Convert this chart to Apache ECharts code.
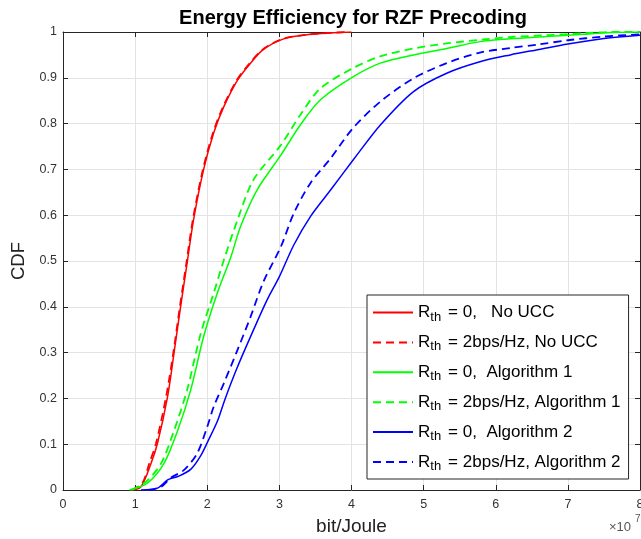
<!DOCTYPE html>
<html>
<head>
<meta charset="utf-8">
<script src="https://cdn.jsdelivr.net/npm/echarts@6/dist/echarts.min.js"></script>
<style>
html,body{margin:0;padding:0;background:#fff;}
#chart{width:641px;height:539px;}
</style>
</head>
<body>
<div id="chart"></div>
<script>
// ---- data (x in units of 1e7 bit/Joule, y = CDF) ----
const xTicks = [0,1,2,3,4,5,6,7,8];
const yTicks = [0,0.1,0.2,0.3,0.4,0.5,0.6,0.7,0.8,0.9,1];

const redSolid = [[0.95,0],[1.08,0.007],[1.22,0.058],[1.31,0.102],[1.45,0.204],[1.54,0.3],[1.63,0.4],[1.72,0.495],[1.81,0.59],[1.95,0.70],[2.09,0.78],[2.23,0.837],[2.42,0.895],[2.6,0.932],[2.78,0.962],[3.06,0.985],[3.38,0.994],[3.7,0.998],[4.0,1]];
const redDashed = [[0.95,0],[1.1,0.015],[1.2,0.06],[1.29,0.102],[1.43,0.204],[1.53,0.3],[1.62,0.4],[1.71,0.495],[1.8,0.59],[1.94,0.70],[2.08,0.78],[2.22,0.837],[2.41,0.895],[2.59,0.932],[2.77,0.962],[3.05,0.985],[3.37,0.994],[3.7,0.998],[3.95,1]];
const greenSolid = [[0.92,0],[1.17,0.015],[1.4,0.058],[1.59,0.13],[1.77,0.218],[1.95,0.335],[2.14,0.43],[2.33,0.51],[2.46,0.575],[2.69,0.655],[3.02,0.731],[3.29,0.797],[3.57,0.852],[4.02,0.902],[4.4,0.932],[4.86,0.95],[5.32,0.964],[5.78,0.979],[6.2,0.985],[6.7,0.99],[7.2,0.995],[7.6,0.999],[8,1]];
const greenDashed = [[0.95,0],[1.15,0.018],[1.36,0.058],[1.54,0.13],[1.72,0.218],[1.91,0.342],[2.09,0.43],[2.23,0.502],[2.42,0.59],[2.64,0.677],[3.02,0.753],[3.29,0.819],[3.57,0.877],[4.02,0.921],[4.4,0.947],[4.86,0.964],[5.32,0.975],[5.78,0.983],[6.2,0.989],[6.7,0.993],[7.2,0.997],[7.6,1],[8,1]];
const blueSolid = [[1.08,0],[1.31,0.004],[1.45,0.022],[1.6,0.03],[1.77,0.045],[1.91,0.075],[2.02,0.11],[2.14,0.15],[2.25,0.2],[2.42,0.269],[2.64,0.349],[2.83,0.415],[3.0,0.466],[3.2,0.535],[3.43,0.597],[3.71,0.655],[4.03,0.722],[4.4,0.797],[4.86,0.87],[5.32,0.91],[5.78,0.935],[6.2,0.95],[6.6,0.962],[7.0,0.974],[7.5,0.986],[8,0.993]];
const blueDashed = [[1.19,0],[1.36,0.007],[1.49,0.026],[1.68,0.044],[1.86,0.08],[2.0,0.138],[2.09,0.182],[2.23,0.233],[2.42,0.306],[2.6,0.378],[2.78,0.455],[3.02,0.531],[3.2,0.604],[3.43,0.67],[3.71,0.724],[4.02,0.79],[4.4,0.848],[4.86,0.899],[5.32,0.932],[5.78,0.955],[6.2,0.965],[6.6,0.973],[7.0,0.982],[7.5,0.99],[8,0.995]];

const seriesNames = ['s1','s2','s3','s4','s5','s6'];
const legendTexts = ['= 0,   No UCC','= 2bps/Hz, No UCC','= 0,  Algorithm 1','= 2bps/Hz, Algorithm 1','= 0,  Algorithm 2','= 2bps/Hz, Algorithm 2'];
const seriesData = [redSolid, redDashed, greenSolid, greenDashed, blueSolid, blueDashed];
const seriesColors = ['#ff0000','#ff0000','#00ff00','#00ff00','#0000ff','#0000ff'];
const seriesDashed = [false,true,false,true,false,true];

const chart = echarts.init(document.getElementById('chart'), null, {renderer:'canvas'});
const FONT = 'Liberation Sans, Arial, Helvetica, sans-serif';
const AX = '#262626';

const series = seriesData.map((d,i)=>({
  name: seriesNames[i],
  type: 'line',
  data: d,
  symbol: 'none',
  smooth: 0.3,
  xAxisIndex: 0, yAxisIndex: 0,
  lineStyle: {color: seriesColors[i], width: seriesDashed[i] ? 1.8 : 1.5, type: seriesDashed[i] ? [8,5] : 'solid'},
  itemStyle: {color: seriesColors[i]},
  z: 3
}));

function baseAxis(extra){
  return Object.assign({
    type: 'value',
    axisLine: {show: true, onZero: false, lineStyle: {color: AX, width: 1}},
    axisTick: {show: true, inside: true, length: 5, lineStyle: {color: AX}},
    axisLabel: {show: false},
    splitLine: {show: false}
  }, extra);
}

chart.setOption({
  animation: false,
  backgroundColor: '#ffffff',
  title: {
    text: 'Energy Efficiency for RZF Precoding',
    left: 348, top: 3, textAlign: 'center',
    textStyle: {fontFamily: FONT, fontSize: 20, fontWeight: 'bold', color: '#000'}
  },
  grid: {left: 63, right: 1, top: 32, bottom: 49, containLabel: false, outerBoundsMode: 'none'},
  xAxis: [
    baseAxis({
      position: 'bottom', min: 0, max: 8, interval: 1,
      axisLabel: {show: true, color: '#333', fontSize: 12.5, fontFamily: FONT, margin: 8,
        formatter: v => String(xTicks[Math.round(v)])},
      splitLine: {show: true, lineStyle: {color: '#e3e3e3', width: 1}},
      name: 'bit/Joule', nameLocation: 'middle', nameGap: 27,
      nameTextStyle: {fontSize: 19, fontFamily: FONT, color: '#222'}
    }),
    baseAxis({position: 'top', min: 0, max: 8, interval: 1})
  ],
  yAxis: [
    baseAxis({
      position: 'left', min: 0, max: 1, interval: 0.1,
      axisLabel: {show: true, color: '#333', fontSize: 12.5, fontFamily: FONT, margin: 6,
        formatter: v => String(yTicks[Math.round(v*10)])},
      splitLine: {show: true, lineStyle: {color: '#e3e3e3', width: 1}},
      name: 'CDF', nameLocation: 'middle', nameGap: 33, nameRotate: 90,
      nameTextStyle: {fontSize: 18.5, fontFamily: FONT, color: '#222'}
    }),
    baseAxis({position: 'right', min: 0, max: 1, interval: 0.1})
  ],
  legend: {
    orient: 'vertical',
    left: 367, top: 295,
    padding: [9, 8, 6, 5],
    itemGap: 10.4,
    itemWidth: 40, itemHeight: 14,
    backgroundColor: '#ffffff',
    borderColor: AX, borderWidth: 1,
    itemStyle: {opacity: 0, borderWidth: 0},
    data: seriesNames,
    formatter: name => '{r|R}{s|th}{t|' + legendTexts[seriesNames.indexOf(name)] + '}',
    textStyle: {
      fontFamily: FONT, color: '#000',
      rich: {
        r: {fontSize: 17, fontFamily: FONT, color: '#000', lineHeight: 22},
        s: {fontSize: 13, fontFamily: FONT, color: '#000', verticalAlign: 'bottom', lineHeight: 13, padding: [0, 7, 0, 0]},
        t: {fontSize: 17, fontFamily: FONT, color: '#000', lineHeight: 22}
      }
    }
  },
  graphic: [
    {type: 'text', left: 609, top: 521, style: {text: '×10', fontSize: 13, fontFamily: FONT, fill: '#555'}},
    {type: 'text', left: 635, top: 514, style: {text: '7', fontSize: 10, fontFamily: FONT, fill: '#555'}}
  ],
  series: series
});
</script>
</body>
</html>
